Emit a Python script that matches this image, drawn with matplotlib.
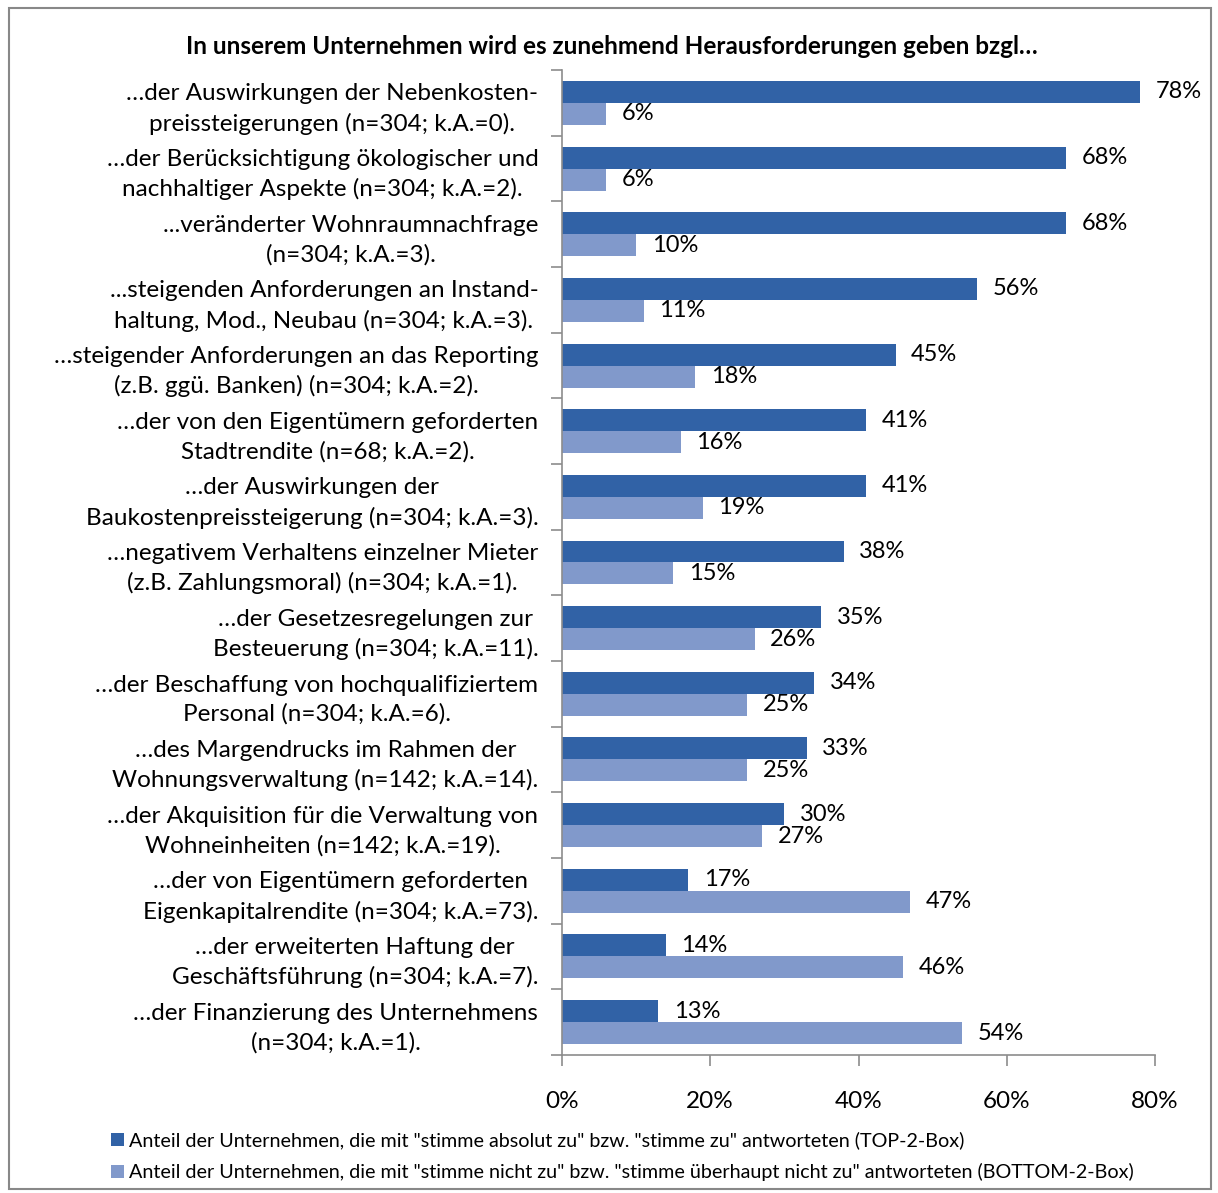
import numpy as np
import matplotlib.pyplot as plt
from matplotlib.patches import Rectangle

plt.rcParams['font.family'] = ['Lato', 'DejaVu Sans']

# Chart data
categories = [
    '…der Auswirkungen der Nebenkosten-\npreissteigerungen (n=304; k.A.=0).',
    '…der Berücksichtigung ökologischer und\nnachhaltiger Aspekte (n=304; k.A.=2).',
    '...veränderter Wohnraumnachfrage\n(n=304; k.A.=3).',
    '...steigenden Anforderungen an Instand-\nhaltung, Mod., Neubau (n=304; k.A.=3).',
    '…steigender Anforderungen an das Reporting\n(z.B. ggü. Banken) (n=304; k.A.=2).',
    '…der von den Eigentümern geforderten\nStadtrendite (n=68; k.A.=2).',
    '…der Auswirkungen der\nBaukostenpreissteigerung (n=304; k.A.=3).',
    '…negativem Verhaltens einzelner Mieter\n(z.B. Zahlungsmoral) (n=304; k.A.=1).',
    '…der Gesetzesregelungen zur\nBesteuerung (n=304; k.A.=11).',
    '…der Beschaffung von hochqualifiziertem\nPersonal (n=304; k.A.=6).',
    '…des Margendrucks im Rahmen der\nWohnungsverwaltung (n=142; k.A.=14).',
    '…der Akquisition für die Verwaltung von\nWohneinheiten (n=142; k.A.=19).',
    '…der von Eigentümern geforderten\nEigenkapitalrendite (n=304; k.A.=73).',
    '…der erweiterten Haftung der\nGeschäftsführung (n=304; k.A.=7).',
    '…der Finanzierung des Unternehmens\n(n=304; k.A.=1).',
]
top2 = [78, 68, 68, 56, 45, 41, 41, 38, 35, 34, 33, 30, 17, 14, 13]
bottom2 = [6, 6, 10, 11, 18, 16, 19, 15, 26, 25, 25, 27, 47, 46, 54]
xticks = [0, 20, 40, 60, 80]
legend_labels = [
    'Anteil der Unternehmen, die mit "stimme absolut zu" bzw. "stimme zu" antworteten (TOP-2-Box)',
    'Anteil der Unternehmen, die mit "stimme nicht zu" bzw. "stimme überhaupt nicht zu" antworteten (BOTTOM-2-Box)',
]
title = 'In unserem Unternehmen wird es zunehmend Herausforderungen geben bzgl…'

dark = '#3162A6'
light = '#8199CB'
grey = '#8c8c8c'

fig = plt.figure(figsize=(12.18, 11.93), dpi=100)
ax = fig.add_axes([0.4614, 0.1157, 0.4869, 0.8256])

y = np.arange(len(categories))
h = 0.335
b1 = ax.barh(y - h / 2, top2, height=h, color=dark, label=legend_labels[0])
b2 = ax.barh(y + h / 2, bottom2, height=h, color=light, label=legend_labels[1])

for bars, vals in ((b1, top2), (b2, bottom2)):
    for bar, v in zip(bars, vals):
        ax.text(v + 2.1, bar.get_y() + bar.get_height() / 2, f'{v}%',
                va='center', ha='left', fontsize=17)

ax.set_xlim(0, 80)
ax.set_ylim(len(categories) - 0.5, -0.5)
ax.set_xticks(xticks)
ax.set_xticklabels([f'{t}%' for t in xticks], fontsize=17.5)
ax.tick_params(axis='x', length=8, width=1.2, color=grey, pad=18)

# ticks between categories on the y axis, labels at the centers
ax.set_yticks(np.arange(len(categories) + 1) - 0.5)
ax.set_yticklabels([])
ax.set_yticks(y, minor=True)
ax.set_yticklabels(categories, minor=True, fontsize=17.5, multialignment='center',
                   linespacing=1.45)
ax.tick_params(axis='y', which='major', length=8, width=1.2, color=grey)
ax.tick_params(axis='y', which='minor', length=0, pad=17)

for s in ('top', 'right'):
    ax.spines[s].set_visible(False)
for s in ('left', 'bottom'):
    ax.spines[s].set_color(grey)
    ax.spines[s].set_linewidth(1.2)

fig.text(0.502, 0.961, title, ha='center', va='center', fontsize=17.5, fontweight='bold')

fig.legend(handles=[b1, b2], loc='upper left', bbox_to_anchor=(0.085, 0.058),
           frameon=False, fontsize=14.2, handlelength=0.65, handleheight=0.65,
           handletextpad=0.25, labelspacing=0.7, borderaxespad=0)

fig.patches.append(Rectangle((0.007, 0.003), 0.987, 0.99, transform=fig.transFigure,
                             fill=False, edgecolor='#888888', linewidth=1.5))

fig.savefig('out.png', dpi=100)
